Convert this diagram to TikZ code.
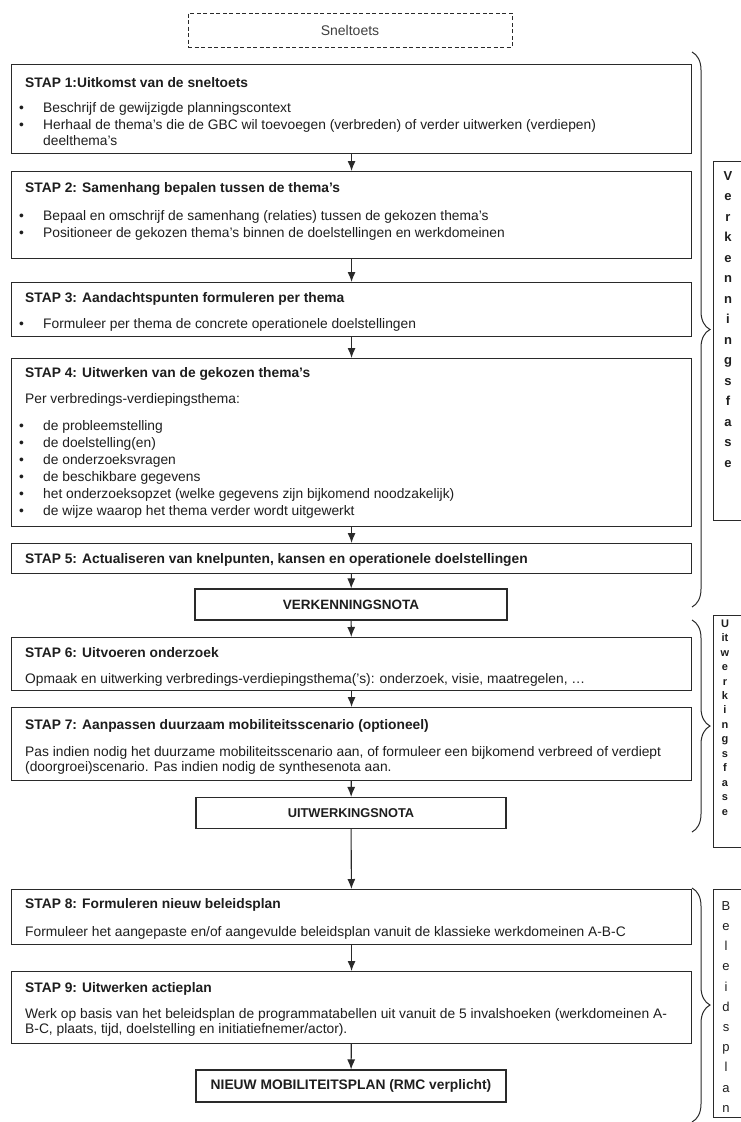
\documentclass[tikz,border=0pt]{standalone}
\usepackage{fontspec}
\setmainfont{Liberation Sans}
\usetikzlibrary{arrows.meta,decorations.pathreplacing}
\definecolor{ink}{HTML}{1E1E1E}
\definecolor{frame}{HTML}{2A2A2A}
\begin{document}
\begin{tikzpicture}[x=1pt,y=-1pt,
  stepbox/.style={draw=frame, line width=1.1pt, minimum width=680pt, anchor=north west, inner sep=0pt},
  notebox/.style={draw=frame, line width=1.1pt, inner sep=0pt, text=ink},
  dashbox/.style={draw=frame, line width=0.8pt, dash pattern=on 4pt off 2.5pt, inner sep=0pt, font=\fontsize{14}{16}\selectfont, text=black!75},
  ttl/.style={anchor=base west, inner sep=0pt, font=\fontsize{13.8}{17}\selectfont\bfseries, text=ink},
  txt/.style={anchor=base west, inner sep=0pt, font=\fontsize{13.8}{17}\selectfont, text=ink},
  arr/.style={draw=frame, line width=1.1pt, -{Latex[length=10pt,width=8pt]}},
  bracest/.style={draw=frame, line width=1pt, decorate, decoration={brace, amplitude=18pt}},
  phasebox/.style={draw=frame, line width=1pt, anchor=north west, minimum width=60pt, inner sep=0pt},
  phasetxt/.style={anchor=north, inner sep=0pt, align=center, text=ink}
]
\useasboundingbox (0,0) rectangle (741,1122);
\fill[white] (0,0) rectangle (741,1122);

% Sneltoets
\node[dashbox, minimum width=324pt, minimum height=34pt] (snel) at (350,30) {Sneltoets};

% STAP 1
\node[stepbox, minimum height=89pt] (s1) at (11,64) {};
\node[ttl] (s1t) at (25,87) {STAP 1:Uitkomst van de sneltoets};
\node[txt] (s1a) at (19,112) {\makebox[24pt][l]{•}Beschrijf de gewijzigde planningscontext};
\node[txt] (s1b) at (19,129) {\makebox[24pt][l]{•}Herhaal de thema's die de GBC wil toevoegen (verbreden) of verder uitwerken (verdiepen)};
\node[txt] (s1c) at (43,145) {deelthema's};

% STAP 2
\node[stepbox, minimum height=87pt] (s2) at (11,171) {};
\node[ttl] (s2t) at (25,192) {STAP 2: Samenhang bepalen tussen de thema's};
\node[txt] (s2a) at (19,220) {\makebox[24pt][l]{•}Bepaal en omschrijf de samenhang (relaties) tussen de gekozen thema's};
\node[txt] (s2b) at (19,237) {\makebox[24pt][l]{•}Positioneer de gekozen thema's binnen de doelstellingen en werkdomeinen};

% STAP 3
\node[stepbox, minimum height=54pt] (s3) at (11,282) {};
\node[ttl] (s3t) at (25,302) {STAP 3: Aandachtspunten formuleren per thema};
\node[txt] (s3a) at (19,328) {\makebox[24pt][l]{•}Formuleer per thema de concrete operationele doelstellingen};

% STAP 4
\node[stepbox, minimum height=168pt] (s4) at (11,358) {};
\node[ttl] (s4t) at (25,377) {STAP 4: Uitwerken van de gekozen thema's};
\node[txt] (s4p) at (25,403) {Per verbredings-verdiepingsthema:};
\node[txt] (s4a) at (19,430) {\makebox[24pt][l]{•}de probleemstelling};
\node[txt] (s4b) at (19,447) {\makebox[24pt][l]{•}de doelstelling(en)};
\node[txt] (s4c) at (19,464) {\makebox[24pt][l]{•}de onderzoeksvragen};
\node[txt] (s4d) at (19,481) {\makebox[24pt][l]{•}de beschikbare gegevens};
\node[txt] (s4e) at (19,498) {\makebox[24pt][l]{•}het onderzoeksopzet (welke gegevens zijn bijkomend noodzakelijk)};
\node[txt] (s4f) at (19,515) {\makebox[24pt][l]{•}de wijze waarop het thema verder wordt uitgewerkt};

% STAP 5
\node[stepbox, minimum height=30pt] (s5) at (11,543) {};
\node[ttl] (s5t) at (25,563) {STAP 5: Actualiseren van knelpunten, kansen en operationele doelstellingen};

% VERKENNINGSNOTA
\node[notebox, minimum width=312pt, minimum height=31pt, font=\fontsize{13.5}{15}\selectfont\bfseries] (verk) at (351,604.5) {VERKENNINGSNOTA};

% STAP 6
\node[stepbox, minimum height=53pt] (s6) at (11,637) {};
\node[ttl] (s6t) at (25,657) {STAP 6: Uitvoeren onderzoek};
\node[txt] (s6a) at (25,683) {Opmaak en uitwerking verbredings-verdiepingsthema('s): onderzoek, visie, maatregelen, \dots};

% STAP 7
\node[stepbox, minimum height=73pt] (s7) at (11,707) {};
\node[ttl] (s7t) at (25,729) {STAP 7: Aanpassen duurzaam mobiliteitsscenario (optioneel)};
\node[txt] (s7a) at (25,756) {Pas indien nodig het duurzame mobiliteitsscenario aan, of formuleer een bijkomend verbreed of verdiept};
\node[txt] (s7b) at (25,771) {(doorgroei)scenario. Pas indien nodig de synthesenota aan.};

% UITWERKINGSNOTA
\node[notebox, minimum width=310pt, minimum height=31pt, font=\fontsize{12.8}{15}\selectfont\bfseries] (uitw) at (351,813) {UITWERKINGSNOTA};

% STAP 8
\node[stepbox, minimum height=55pt] (s8) at (11,889) {};
\node[ttl] (s8t) at (25,908) {STAP 8: Formuleren nieuw beleidsplan};
\node[txt] (s8a) at (25,936) {Formuleer het aangepaste en/of aangevulde beleidsplan vanuit de klassieke werkdomeinen A-B-C};

% STAP 9
\node[stepbox, minimum height=72pt] (s9) at (11,971) {};
\node[ttl] (s9t) at (25,992) {STAP 9: Uitwerken actieplan};
\node[txt] (s9a) at (25,1018) {Werk op basis van het beleidsplan de programmatabellen uit vanuit de 5 invalshoeken (werkdomeinen A-};
\node[txt] (s9b) at (25,1033) {B-C, plaats, tijd, doelstelling en initiatiefnemer/actor).};

% NIEUW MOBILITEITSPLAN
\node[notebox, minimum width=310pt, minimum height=32pt, font=\fontsize{13.8}{15}\selectfont\bfseries] (nieuw) at (351,1086) {NIEUW MOBILITEITSPLAN (RMC verplicht)};

% arrows
\draw[arr] (s1) -- (s2);
\draw[arr] (s2) -- (s3);
\draw[arr] (s3) -- (s4);
\draw[arr] (s4) -- (s5);
\draw[arr] (s5) -- (verk);
\draw[arr] (verk) -- (s6);
\draw[arr] (s6) -- (s7);
\draw[arr] (s7) -- (uitw);
\draw[arr] (uitw) -- (s8);
\draw[arr] (s8) -- (s9);
\draw[arr] (s9) -- (nieuw);

% braces
\coordinate (b1a) at (692,52);
\coordinate (b1b) at (692,607);
\coordinate (b2a) at (692,620);
\coordinate (b2b) at (692,832);
\coordinate (b3a) at (692,888);
\coordinate (b3b) at (692,1122);
\draw[bracest] (b1a) -- (b1b);
\draw[bracest] (b2a) -- (b2b);
\draw[bracest] (b3a) -- (b3b);

% phase labels
\begin{scope}
\clip (0,0) rectangle (741,1122);
\node[phasebox, minimum height=359pt] (pb1) at (713,161) {};
\node[phasebox, minimum height=232pt] (pb2) at (713,615) {};
\node[phasebox, minimum height=228pt] (pb3) at (713,889) {};
\end{scope}
\node[phasetxt, font=\fontsize{13}{20.5}\selectfont\bfseries] (pt1) at (728,165.6)
  {\strut V\\\strut e\\\strut r\\\strut k\\\strut e\\\strut n\\\strut n\\\strut i\\\strut n\\\strut g\\\strut s\\\strut f\\\strut a\\\strut s\\\strut e};
\node[phasetxt, font=\fontsize{11}{14.46}\selectfont\bfseries] (pt2) at (725,616.9)
  {\strut U\\\strut it\\\strut w\\\strut e\\\strut r\\\strut k\\\strut i\\\strut n\\\strut g\\\strut s\\\strut f\\\strut a\\\strut s\\\strut e};
\node[phasetxt, font=\fontsize{13}{20.2}\selectfont] (pt3) at (726,895.9)
  {\strut B\\\strut e\\\strut l\\\strut e\\\strut i\\\strut d\\\strut s\\\strut p\\\strut l\\\strut a\\\strut n};
\end{tikzpicture}
\end{document}
